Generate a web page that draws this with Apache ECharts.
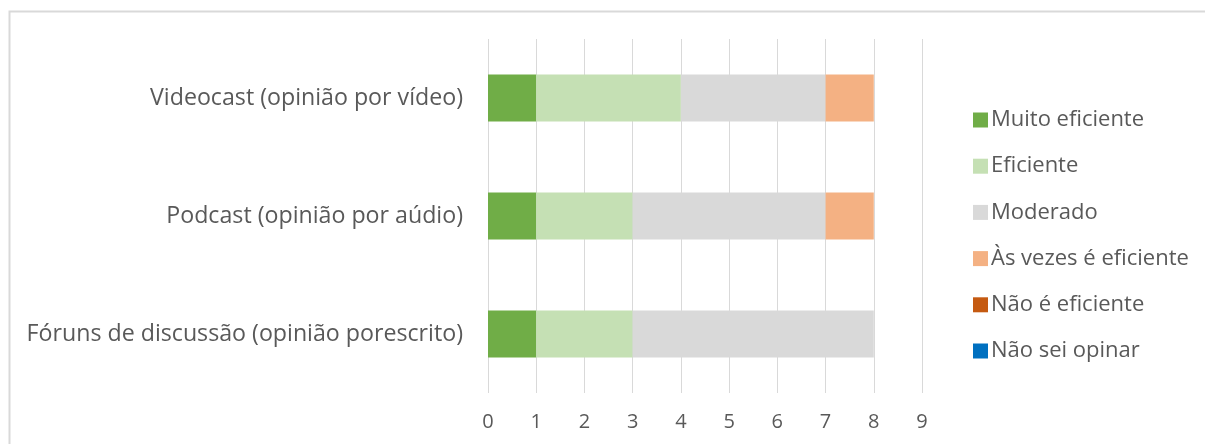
<!DOCTYPE html>
<html>
<head>
<meta charset="utf-8">
<script src="https://cdn.jsdelivr.net/npm/echarts@6/dist/echarts.min.js"></script>
<style>
  html, body { margin: 0; padding: 0; background: #ffffff; }
  #chart { width: 1205px; height: 444px; }
</style>
</head>
<body>
<div id="chart"></div>
<script>
// Categories, bottom to top on the vertical axis
const categories = [
  'Fóruns de discussão (opinião porescrito)',
  'Podcast (opinião por aúdio)',
  'Videocast (opinião por vídeo)'
];

const seriesNames = [
  'Muito eficiente',
  'Eficiente',
  'Moderado',
  'Às vezes é eficiente',
  'Não é eficiente',
  'Não sei opinar'
];

const muitoEficiente = [1, 1, 1];
const eficiente = [2, 2, 3];
const moderado = [5, 4, 3];
const asVezes = [0, 1, 1];
const naoEficiente = [0, 0, 0];
const naoSei = [0, 0, 0];

const seriesColors = ['#70ad47', '#c5e0b4', '#d9d9d9', '#f4b183', '#c55a11', '#0070c0'];
const xTicks = ['0', '1', '2', '3', '4', '5', '6', '7', '8', '9'];

const values = [muitoEficiente, eficiente, moderado, asVezes, naoEficiente, naoSei];
const font = '"Open Sans", sans-serif';

const chart = echarts.init(document.getElementById('chart'), null, { renderer: 'canvas' });

chart.setOption({
  animation: false,
  backgroundColor: '#ffffff',
  graphic: [{
    type: 'rect',
    shape: { x: 9.5, y: 11.5, width: 1200, height: 460 },
    style: { fill: 'none', stroke: '#d9d9d9', lineWidth: 2 },
    silent: true
  }],
  grid: { left: 488, right: 283, top: 39, bottom: 51, containLabel: false },
  xAxis: {
    type: 'value',
    min: 0,
    max: 9,
    interval: 1,
    axisLine: { show: false },
    axisTick: { show: false },
    splitLine: { show: true, lineStyle: { color: '#d9d9d9', width: 1 } },
    axisLabel: {
      color: '#595959',
      fontFamily: font,
      fontSize: 20,
      margin: 19,
      formatter: v => xTicks[v]
    }
  },
  yAxis: {
    type: 'category',
    data: categories,
    axisLine: { show: false },
    axisTick: { show: false },
    axisLabel: { color: '#595959', fontFamily: font, fontSize: 23.2, margin: 25, padding: [4, 0, 0, 0] }
  },
  legend: {
    orient: 'vertical',
    left: 968,
    top: 104,
    itemWidth: 15,
    itemHeight: 15,
    itemGap: 24.2,
    icon: 'rect',
    textStyle: { color: '#595959', fontFamily: font, fontSize: 22, padding: [0, 0, 0, -2] },
    data: seriesNames
  },
  series: seriesNames.map((name, i) => ({
    name: name,
    type: 'bar',
    stack: 'total',
    barWidth: 47,
    itemStyle: { color: seriesColors[i] },
    data: values[i]
  }))
});
</script>
</body>
</html>
